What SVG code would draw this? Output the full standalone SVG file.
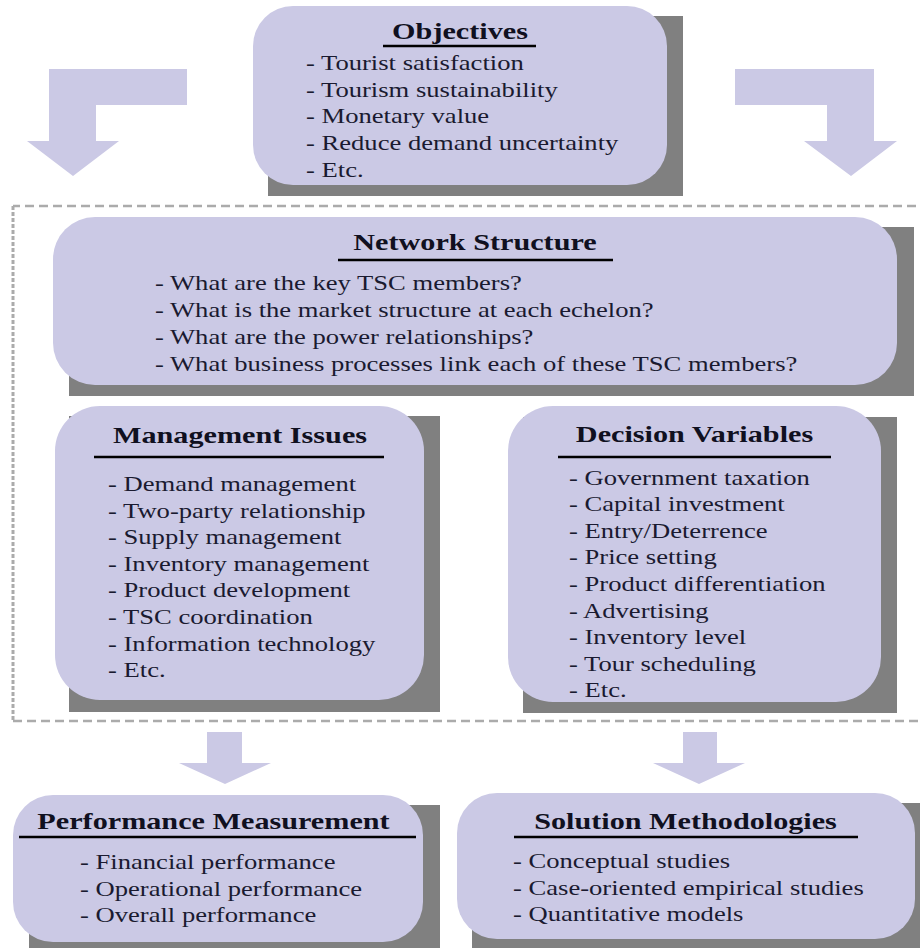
<svg xmlns="http://www.w3.org/2000/svg" width="920" height="948" viewBox="0 0 920 948">
<style>
.box{fill:#cbc9e5}
.shd{fill:#808080}
.arr{fill:#cbc9e5}
.t{font-family:"Liberation Serif","Times New Roman",serif;font-weight:bold;font-size:23.5px;fill:#101020;text-anchor:middle}
.i{font-family:"Liberation Serif","Times New Roman",serif;font-size:20.7px;fill:#1a1a30}
.ul{stroke:#000;stroke-width:2.5}
.dash{fill:none;stroke:#ababab;stroke-width:2.5;stroke-dasharray:9 5}
.dashv{fill:none;stroke:#ababab;stroke-width:3;stroke-dasharray:4 2}
</style>
<rect width="920" height="948" fill="#fff"/>

<g id="frame">
<path class="dash" d="M930 206 H13"/>
<path class="dash" d="M13 721 H930"/>
<path class="dashv" d="M13 206 V721"/>
</g>

<g id="connectors">
<path class="arr" d="M187 69 H49 V141 H27 L73 176 L119 141 H96 V105 H187 Z"/>
<path class="arr" d="M735 69 H874 V141 H897 L851 176 L804 141 H827 V105 H735 Z"/>
<path class="arr" d="M207 732 H242 V763 H271 L225 784 L179 763 H207 Z"/>
<path class="arr" d="M683 732 H717 V763 H745 L699 784 L653 763 H683 Z"/>
</g>

<g id="objectives">
<rect class="shd" x="268" y="16" width="415" height="180"/>
<rect class="box" x="253" y="6" width="414" height="179" rx="40" ry="40"/>
<text class="t" transform="translate(460,39) scale(1.285,1)">Objectives</text>
<line class="ul" x1="383" y1="46" x2="536" y2="46"/>
<text class="i" transform="translate(306,70) scale(1.285,1)">- Tourist satisfaction</text>
<text class="i" transform="translate(306,96.7) scale(1.285,1)">- Tourism sustainability</text>
<text class="i" transform="translate(306,123.4) scale(1.285,1)">- Monetary value</text>
<text class="i" transform="translate(306,150.1) scale(1.285,1)">- Reduce demand uncertainty</text>
<text class="i" transform="translate(306,176.8) scale(1.285,1)">- Etc.</text>
</g>

<g id="network-structure">
<rect class="shd" x="69" y="227" width="845" height="169"/>
<rect class="box" x="53" y="217" width="844" height="168" rx="42" ry="42"/>
<text class="t" transform="translate(475,250) scale(1.285,1)">Network Structure</text>
<line class="ul" x1="338" y1="260" x2="613" y2="260"/>
<text class="i" transform="translate(155,290) scale(1.285,1)">- What are the key TSC members?</text>
<text class="i" transform="translate(155,317) scale(1.285,1)">- What is the market structure at each echelon?</text>
<text class="i" transform="translate(155,344) scale(1.285,1)">- What are the power relationships?</text>
<text class="i" transform="translate(155,371) scale(1.285,1)">- What business processes link each of these TSC members?</text>
</g>

<g id="management-issues">
<rect class="shd" x="69" y="416" width="371" height="296"/>
<rect class="box" x="55" y="406" width="369" height="294" rx="45" ry="45"/>
<text class="t" transform="translate(240,443) scale(1.285,1)">Management Issues</text>
<line class="ul" x1="94" y1="457" x2="384" y2="457"/>
<text class="i" transform="translate(108,491) scale(1.285,1)">- Demand management</text>
<text class="i" transform="translate(108,517.6) scale(1.285,1)">- Two-party relationship</text>
<text class="i" transform="translate(108,544.2) scale(1.285,1)">- Supply management</text>
<text class="i" transform="translate(108,570.8) scale(1.285,1)">- Inventory management</text>
<text class="i" transform="translate(108,597.4) scale(1.285,1)">- Product development</text>
<text class="i" transform="translate(108,624) scale(1.285,1)">- TSC coordination</text>
<text class="i" transform="translate(108,650.6) scale(1.285,1)">- Information technology</text>
<text class="i" transform="translate(108,677.2) scale(1.285,1)">- Etc.</text>
</g>

<g id="decision-variables">
<rect class="shd" x="523" y="417" width="374" height="296"/>
<rect class="box" x="508" y="406" width="373" height="296" rx="45" ry="45"/>
<text class="t" transform="translate(694.5,442) scale(1.285,1)">Decision Variables</text>
<line class="ul" x1="558" y1="457" x2="831" y2="457"/>
<text class="i" transform="translate(569,484.5) scale(1.285,1)">- Government taxation</text>
<text class="i" transform="translate(569,511.1) scale(1.285,1)">- Capital investment</text>
<text class="i" transform="translate(569,537.7) scale(1.285,1)">- Entry/Deterrence</text>
<text class="i" transform="translate(569,564.3) scale(1.285,1)">- Price setting</text>
<text class="i" transform="translate(569,590.9) scale(1.285,1)">- Product differentiation</text>
<text class="i" transform="translate(569,617.5) scale(1.285,1)">- Advertising</text>
<text class="i" transform="translate(569,644.1) scale(1.285,1)">- Inventory level</text>
<text class="i" transform="translate(569,670.7) scale(1.285,1)">- Tour scheduling</text>
<text class="i" transform="translate(569,697.3) scale(1.285,1)">- Etc.</text>
</g>

<g id="performance-measurement">
<rect class="shd" x="29" y="805" width="411" height="150"/>
<rect class="box" x="13" y="795" width="410" height="147" rx="40" ry="40"/>
<text class="t" transform="translate(213.5,829) scale(1.285,1)">Performance Measurement</text>
<line class="ul" x1="19" y1="837" x2="416" y2="837"/>
<text class="i" transform="translate(80,869) scale(1.285,1)">- Financial performance</text>
<text class="i" transform="translate(80,895.5) scale(1.285,1)">- Operational performance</text>
<text class="i" transform="translate(80,922) scale(1.285,1)">- Overall performance</text>
</g>

<g id="solution-methodologies">
<rect class="shd" x="472" y="803" width="460" height="152"/>
<rect class="box" x="457" y="793" width="458" height="146" rx="40" ry="40"/>
<text class="t" transform="translate(685.5,829) scale(1.285,1)">Solution Methodologies</text>
<line class="ul" x1="514" y1="837" x2="858" y2="837"/>
<text class="i" transform="translate(513,868) scale(1.285,1)">- Conceptual studies</text>
<text class="i" transform="translate(513,895) scale(1.285,1)">- Case-oriented empirical studies</text>
<text class="i" transform="translate(513,921) scale(1.285,1)">- Quantitative models</text>
</g>
</svg>
